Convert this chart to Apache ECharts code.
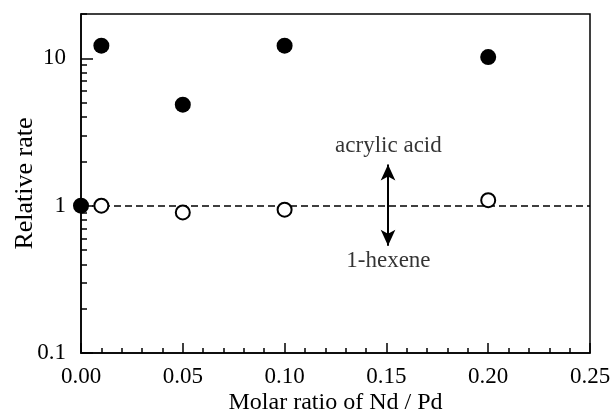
<!DOCTYPE html>
<html>
<head>
<meta charset="utf-8">
<script src="https://cdn.jsdelivr.net/npm/echarts@6/dist/echarts.min.js"></script>
<style>html,body{margin:0;padding:0;background:#fff;}#c{width:610px;height:414px;}</style>
</head>
<body>
<div id="c"></div>
<script>
// Data
const acrylicX = [0, 0.01, 0.05, 0.10, 0.20];
const acrylicY = [1.0, 12.2, 4.85, 12.2, 10.2];
const hexeneX = [0.01, 0.05, 0.10, 0.20];
const hexeneY = [1.0, 0.90, 0.94, 1.09];
const yMajorTicks = [0.1, 1, 10];
const yMinorTicks = [0.2,0.3,0.4,0.5,0.6,0.7,0.8,0.9,2,3,4,5,6,7,8,9,20];
const xTicks = [0, 0.05, 0.10, 0.15, 0.20, 0.25];
const refLine = 1;
const arrowX = 0.1508;
const arrowY = [1.9, 0.534];
const notes = [[0.151, 2.56, 'acrylic acid'], [0.151, 0.42, '1-hexene']];

const FONT = 'Liberation Serif';
const chart = echarts.init(document.getElementById('c'));
chart.setOption({
  animation: false,
  backgroundColor: '#fff',
  grid: { left: 81, right: 20, top: 14, bottom: 61, show: true, borderColor: '#000', borderWidth: 1.5,
    backgroundColor: 'transparent', containLabel: false, outerBoundsMode: 'none' },
  xAxis: {
    type: 'value', min: 0, max: 0.25, interval: 0.05,
    name: 'Molar ratio of Nd / Pd', nameLocation: 'middle', nameGap: 38, nameMoveOverlap: false,
    nameTextStyle: { fontFamily: FONT, fontSize: 24, color: '#000' },
    axisLine: { show: true, lineStyle: { color: '#000', width: 1.5 } },
    axisTick: { show: true, inside: true, length: 10, lineStyle: { color: '#000', width: 1.5 } },
    minorTick: { show: true, splitNumber: 5, length: 5, lineStyle: { color: '#000', width: 1.5 } },
    splitLine: { show: false },
    axisLabel: { fontFamily: FONT, fontSize: 23, color: '#000', margin: 12,
      customValues: xTicks, formatter: v => v.toFixed(2) }
  },
  yAxis: [{
    type: 'log', logBase: 10, min: 0.1, max: 20,
    name: 'Relative rate', nameLocation: 'middle', nameGap: 43, nameRotate: 90, nameMoveOverlap: false,
    nameTextStyle: { fontFamily: FONT, fontSize: 26, color: '#000' },
    axisLine: { show: true, lineStyle: { color: '#000', width: 1.5 } },
    axisTick: { show: true, inside: true, length: 12, customValues: yMajorTicks, lineStyle: { color: '#000', width: 1.5 } },
    splitLine: { show: false },
    axisLabel: { fontFamily: FONT, fontSize: 23, color: '#000', margin: 15,
      customValues: yMajorTicks, formatter: v => String(+v.toPrecision(3)) }
  }, {
    type: 'log', logBase: 10, min: 0.1, max: 20, position: 'left', offset: 0,
    axisLine: { show: false },
    axisTick: { show: true, inside: true, length: 6, customValues: yMinorTicks, lineStyle: { color: '#000', width: 1.5 } },
    splitLine: { show: false },
    axisLabel: { show: false }
  }],
  series: [{
    type: 'scatter', name: 'acrylic acid', yAxisIndex: 0,
    data: acrylicX.map((x, i) => [x, acrylicY[i]]),
    symbol: 'circle', symbolSize: 16,
    itemStyle: { color: '#000', opacity: 1 }, z: 5,
    markLine: {
      silent: true, symbol: ['arrow', 'arrow'], symbolSize: [11, 16],
      lineStyle: { color: '#000', type: 'solid', width: 2 },
      label: { show: false },
      data: [[{ coord: [arrowX, arrowY[0]] }, { coord: [arrowX, arrowY[1]] }]]
    }
  }, {
    type: 'scatter', name: '1-hexene', yAxisIndex: 0,
    data: hexeneX.map((x, i) => [x, hexeneY[i]]),
    symbol: 'circle', symbolSize: 14,
    itemStyle: { color: '#fff', borderColor: '#000', borderWidth: 2, opacity: 1 }, z: 5,
    markLine: {
      silent: true, symbol: 'none',
      lineStyle: { color: '#000', type: [7, 4], width: 1.5 },
      label: { show: false },
      data: [{ yAxis: refLine }]
    }
  }, {
    type: 'scatter', name: 'notes', yAxisIndex: 0,
    data: notes, symbolSize: 0, silent: true,
    label: { show: true, position: 'inside', formatter: p => p.data[2],
      fontFamily: FONT, fontSize: 23, color: '#000' }
  }]
});
</script>
</body>
</html>
